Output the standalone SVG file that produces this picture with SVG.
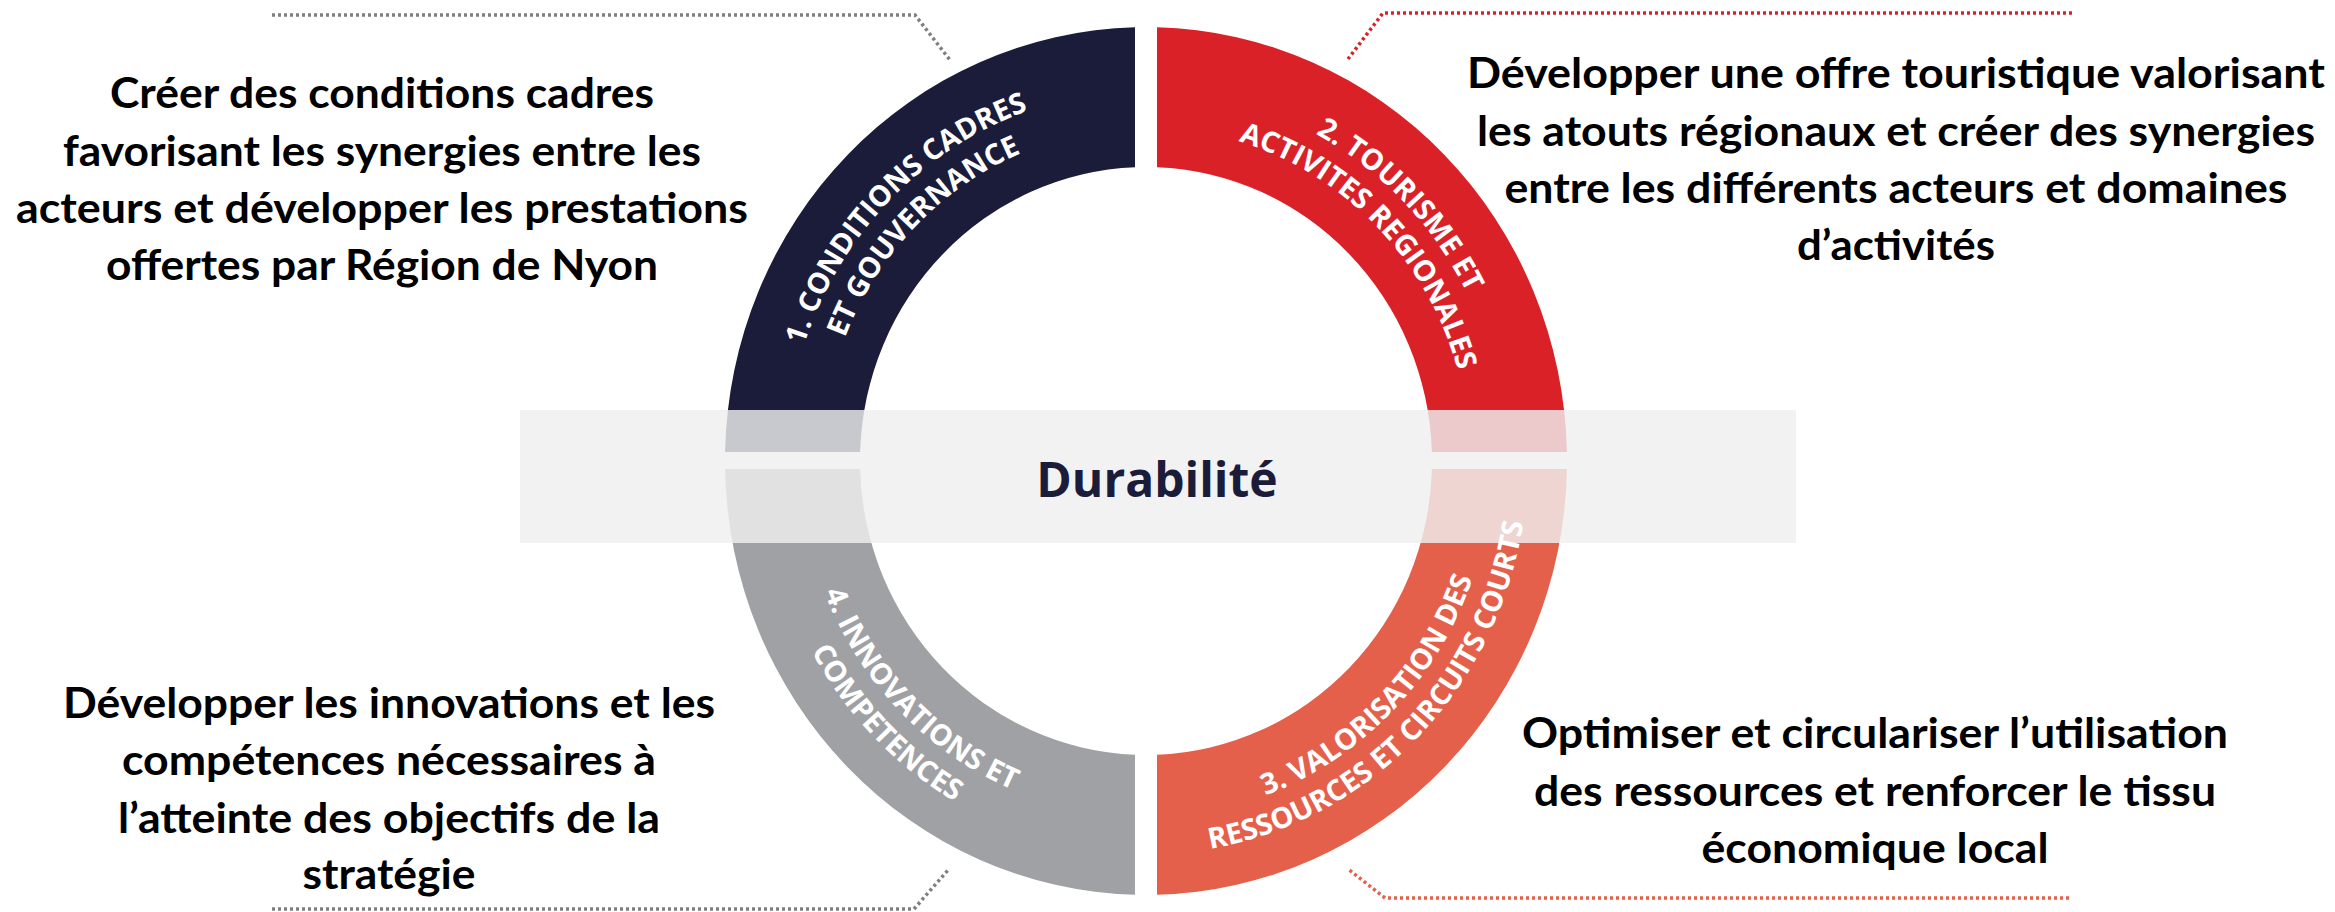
<svg xmlns="http://www.w3.org/2000/svg" width="2335" height="912" viewBox="0 0 2335 912">
<style>
.body{font-family:Lato,"Liberation Sans",sans-serif;font-weight:700;font-size:42px;fill:#000;text-anchor:middle}
.lbl{font-family:"Open Sans","Liberation Sans",sans-serif;font-weight:700;font-size:29px;fill:#fff}
.dot{fill:none;stroke-width:3.5;stroke-dasharray:3 3}
</style>
<defs>
<path id="p1a" d="M 798.27 556.97 A 360 370.8 0 0 1 1239.18 102.83"/>
<path id="p1b" d="M 833.04 547.37 A 324 333.72 0 0 1 1229.86 138.65"/>
<path id="p2a" d="M 1052.82 102.83 A 360 370.8 0 0 1 1493.73 556.97"/>
<path id="p2b" d="M 1062.14 138.65 A 324 333.72 0 0 1 1458.96 547.37"/>
<path id="p3a" d="M 1056.45 805.24 A 346 356.38 0 0 0 1480.21 368.76"/>
<path id="p3b" d="M 1047.13 841.06 A 382 393.46 0 0 0 1514.99 359.16"/>
<path id="p4a" d="M 811.79 368.76 A 346 356.38 0 0 0 1235.55 805.24"/>
<path id="p4b" d="M 777.01 359.16 A 382 393.46 0 0 0 1244.87 841.06"/>
</defs>
<rect width="2335" height="912" fill="#fff"/>
<g id="connectors">
<path class="dot" stroke="#7f7f7f" d="M 272 15 L 915 15 L 950 60"/>
<path class="dot" stroke="#da2128" d="M 2072 13 L 1383 13 L 1348 59"/>
<path class="dot" stroke="#7f7f7f" d="M 272 909 L 914 909 L 949 869"/>
<path class="dot" stroke="#e5604a" d="M 2069 898 L 1385 898 L 1348 869"/>
</g>
<g id="seg1"><path fill="#1b1c3a" d="M 725.09 452 A 421 434 0 0 1 1135 27.15 L 1135 167.22 A 286 294 0 0 0 860.13 452 Z"/></g>
<g id="seg2"><path fill="#da2128" d="M 1157 27.15 A 421 434 0 0 1 1566.91 452 L 1431.87 452 A 286 294 0 0 0 1157 167.22 Z"/></g>
<g id="seg3"><path fill="#e5604a" d="M 1566.93 469 A 421 434 0 0 1 1157 894.85 L 1157 754.78 A 286 294 0 0 0 1431.89 469 Z"/></g>
<g id="seg4"><path fill="#a0a1a5" d="M 1135 894.85 A 421 434 0 0 1 725.07 469 L 860.11 469 A 286 294 0 0 0 1135 754.78 Z"/></g>
<g id="durabilite">
<rect x="520" y="410" width="1276" height="133" fill="#efefef" fill-opacity="0.82"/>
<text x="1157" y="497" font-family="'Open Sans','Liberation Sans',sans-serif" font-weight="700" font-size="48" fill="#1b1c3a" text-anchor="middle">Durabilité</text>
</g>
<g id="seg1-label" class="lbl">
<text text-anchor="middle"><textPath href="#p1a" startOffset="50%">1. CONDITIONS CADRES</textPath></text>
<text text-anchor="middle"><textPath href="#p1b" startOffset="50%">ET GOUVERNANCE</textPath></text>
</g>
<g id="seg2-label" class="lbl">
<text text-anchor="middle"><textPath href="#p2a" startOffset="50%">2. TOURISME ET</textPath></text>
<text text-anchor="middle"><textPath href="#p2b" startOffset="50%">ACTIVITES REGIONALES</textPath></text>
</g>
<g id="seg3-label" class="lbl">
<text text-anchor="middle"><textPath href="#p3a" startOffset="50%">3. VALORISATION DES</textPath></text>
<text text-anchor="middle"><textPath href="#p3b" startOffset="50%">RESSOURCES ET CIRCUITS COURTS</textPath></text>
</g>
<g id="seg4-label" class="lbl">
<text text-anchor="middle"><textPath href="#p4a" startOffset="50%">4. INNOVATIONS ET</textPath></text>
<text text-anchor="middle"><textPath href="#p4b" startOffset="50%">COMPETENCES</textPath></text>
</g>
<g id="text1">
<text class="body" x="382" y="108" textLength="544" lengthAdjust="spacingAndGlyphs">Créer des conditions cadres</text>
<text class="body" x="382" y="166" textLength="638" lengthAdjust="spacingAndGlyphs">favorisant les synergies entre les</text>
<text class="body" x="382" y="223" textLength="732" lengthAdjust="spacingAndGlyphs">acteurs et développer les prestations</text>
<text class="body" x="382" y="280" textLength="552" lengthAdjust="spacingAndGlyphs">offertes par Région de Nyon</text>
</g>
<g id="text2">
<text class="body" x="1896" y="88" textLength="858" lengthAdjust="spacingAndGlyphs">Développer une offre touristique valorisant</text>
<text class="body" x="1896" y="146" textLength="838" lengthAdjust="spacingAndGlyphs">les atouts régionaux et créer des synergies</text>
<text class="body" x="1896" y="203" textLength="783" lengthAdjust="spacingAndGlyphs">entre les différents acteurs et domaines</text>
<text class="body" x="1896" y="260" textLength="198" lengthAdjust="spacingAndGlyphs">d’activités</text>
</g>
<g id="text4">
<text class="body" x="389" y="718" textLength="652" lengthAdjust="spacingAndGlyphs">Développer les innovations et les</text>
<text class="body" x="389" y="775" textLength="534" lengthAdjust="spacingAndGlyphs">compétences nécessaires à</text>
<text class="body" x="389" y="833" textLength="542" lengthAdjust="spacingAndGlyphs">l’atteinte des objectifs de la</text>
<text class="body" x="389" y="889" textLength="173" lengthAdjust="spacingAndGlyphs">stratégie</text>
</g>
<g id="text3">
<text class="body" x="1875" y="748" textLength="706" lengthAdjust="spacingAndGlyphs">Optimiser et circulariser l’utilisation</text>
<text class="body" x="1875" y="806" textLength="682" lengthAdjust="spacingAndGlyphs">des ressources et renforcer le tissu</text>
<text class="body" x="1875" y="863" textLength="347" lengthAdjust="spacingAndGlyphs">économique local</text>
</g>
</svg>
